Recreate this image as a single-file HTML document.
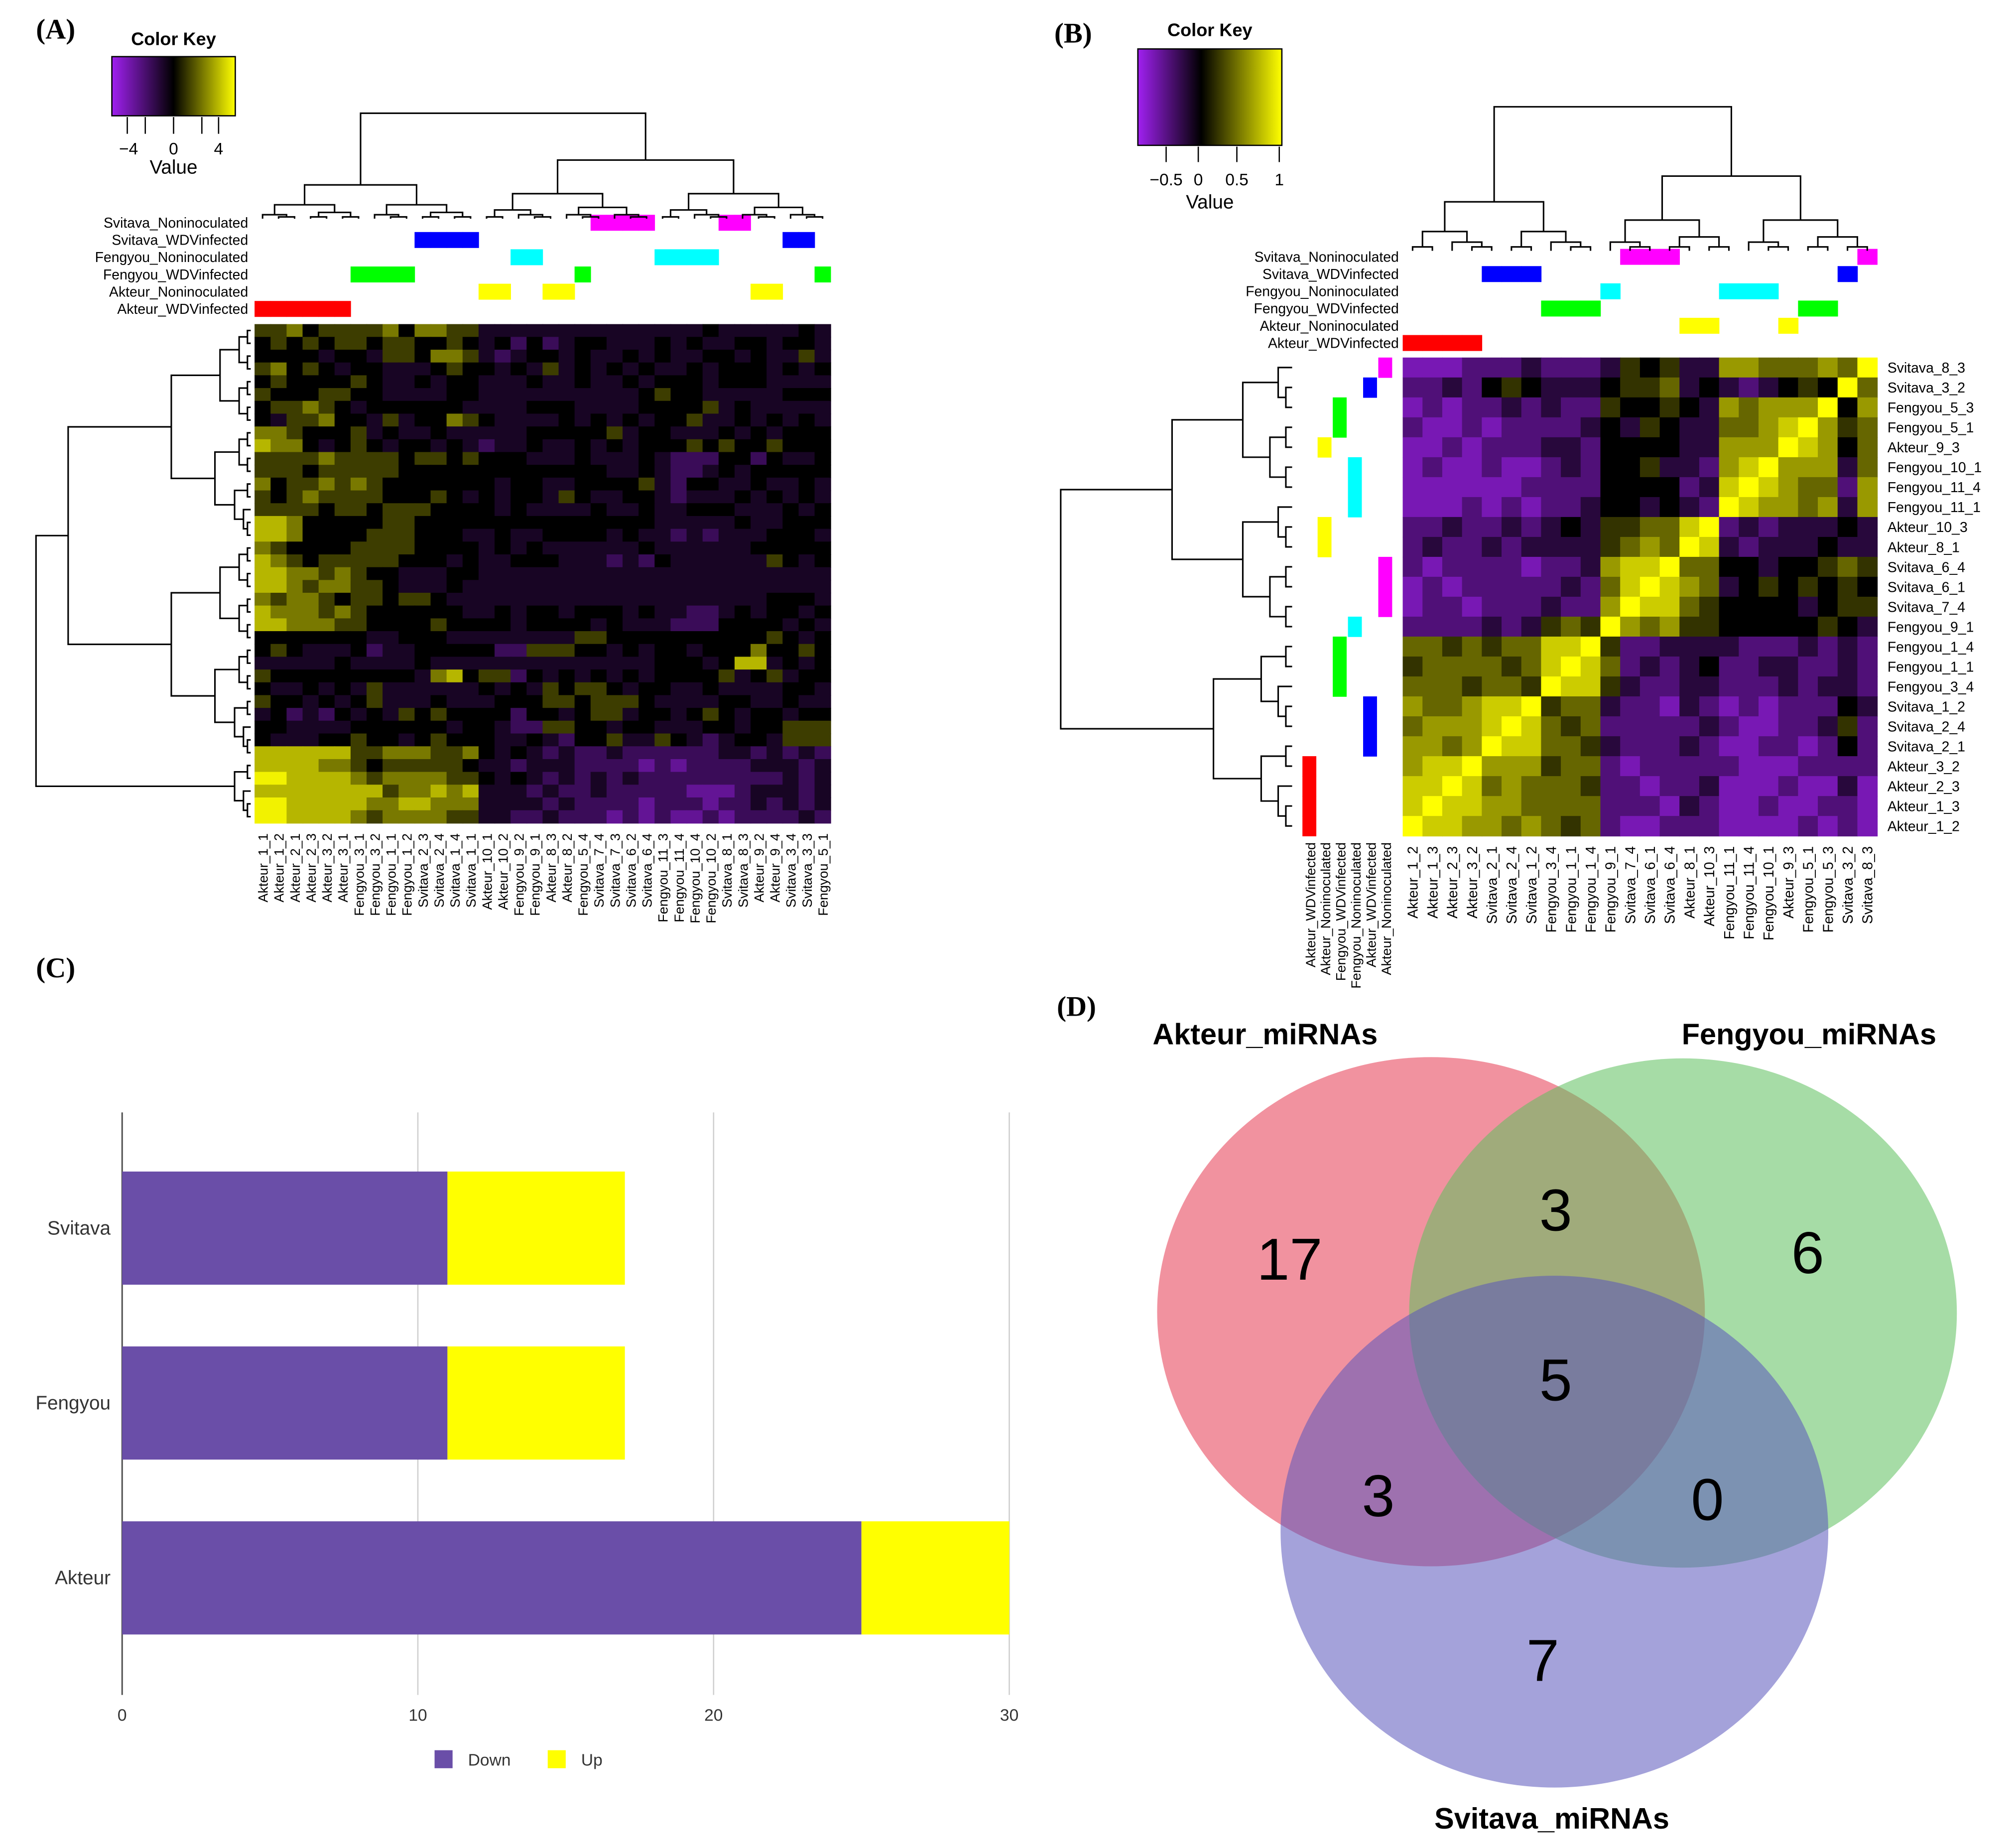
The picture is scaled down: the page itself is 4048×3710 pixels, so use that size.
<!DOCTYPE html>
<html><head><meta charset="utf-8"><style>
html,body{margin:0;padding:0;background:#fff;}
svg{display:block;font-family:"Liberation Sans",sans-serif;}
</style></head><body>
<svg id="fig" xmlns="http://www.w3.org/2000/svg" width="4048" height="3710" viewBox="0 0 1568 1437">
<defs>
<linearGradient id="gk" x1="0" x2="1" y1="0" y2="0"><stop offset="0" stop-color="#a020f0"/><stop offset="0.5" stop-color="#000"/><stop offset="1" stop-color="#ffff00"/></linearGradient>
<linearGradient id="gkb" x1="0" x2="1" y1="0" y2="0"><stop offset="0" stop-color="#a020f0"/><stop offset="0.44" stop-color="#000"/><stop offset="1" stop-color="#ffff00"/></linearGradient>
</defs>
<rect width="1568" height="1437" fill="#fff"/>
<g font-family="Liberation Serif,serif" font-weight="bold" font-size="22">
<text x="28" y="30">(A)</text>
<text x="820" y="33">(B)</text>
<text x="28" y="760">(C)</text>
<text x="822" y="790">(D)</text>
</g>
<g>
<text x="135" y="35" font-size="14" font-weight="bold" text-anchor="middle">Color Key</text>
<rect x="87" y="44" width="96" height="46" fill="url(#gk)" stroke="#000" stroke-width="1"/>
<path d="M99 91v13M113 91v13M135 91v13M157 91v13M170 91v13" stroke="#000" stroke-width="1"/>
<text x="100" y="120" font-size="13" text-anchor="middle">−4</text>
<text x="135" y="120" font-size="13" text-anchor="middle">0</text>
<text x="170" y="120" font-size="13" text-anchor="middle">4</text>
<text x="135" y="135" font-size="15" text-anchor="middle">Value</text>
</g>
<g>
<text x="941" y="28" font-size="14" font-weight="bold" text-anchor="middle">Color Key</text>
<rect x="885" y="38" width="112" height="75" fill="url(#gkb)" stroke="#000" stroke-width="1"/>
<path d="M907 114v12M932 114v12M962 114v12M995 114v12" stroke="#000" stroke-width="1"/>
<text x="907" y="144" font-size="13" text-anchor="middle">−0.5</text>
<text x="932" y="144" font-size="13" text-anchor="middle">0</text>
<text x="962" y="144" font-size="13" text-anchor="middle">0.5</text>
<text x="995" y="144" font-size="13" text-anchor="middle">1</text>
<text x="941" y="162" font-size="15" text-anchor="middle">Value</text>
</g>
<g id="gA"></g>
<g id="gB"></g>
<g id="gC"></g>
<g id="gD"></g>
</svg>
<script>
const colsA = ["Akteur_1_1","Akteur_1_2","Akteur_2_1","Akteur_2_3","Akteur_3_2","Akteur_3_1","Fengyou_3_1","Fengyou_3_2","Fengyou_1_1","Fengyou_1_2","Svitava_2_3","Svitava_2_4","Svitava_1_4","Svitava_1_1","Akteur_10_1","Akteur_10_2","Fengyou_9_2","Fengyou_9_1","Akteur_8_3","Akteur_8_2","Fengyou_5_4","Svitava_7_4","Svitava_7_3","Svitava_6_2","Svitava_6_4","Fengyou_11_3","Fengyou_11_4","Fengyou_10_4","Fengyou_10_2","Svitava_8_1","Svitava_8_3","Akteur_9_2","Akteur_9_4","Svitava_3_4","Svitava_3_3","Fengyou_5_1"];
const groupsA = ["AW","AW","AW","AW","AW","AW","FW","FW","FW","FW","SW","SW","SW","SW","AN","AN","FN","FN","AN","AN","FW","SN","SN","SN","SN","FN","FN","FN","FN","SN","SN","AN","AN","SW","SW","FW"];
const annRows = ["SN","SW","FN","FW","AN","AW"];
const annNames = ["Svitava_Noninoculated","Svitava_WDVinfected","Fengyou_Noninoculated","Fengyou_WDVinfected","Akteur_Noninoculated","Akteur_WDVinfected"];
const annColors = {SN:"#ff00ff",SW:"#0000ff",FN:"#00ffff",FW:"#00ff00",AN:"#ffff00",AW:"#ff0000"};
const valuesA = [
"556455556466553333333333333343333343","454545545544543424234433343433443443","444434435546653234434334343344343353",
"564543443334544343534343433434443434","454444543343443334334334344434443333","544455443333443333333333454433333444",
"455654344444433334443333444453433333","435564435344654333343434344533434343","665444534334333334444453443334343444",
"766434543443432334334343444545445444","555565555455454443334333432224424334","555455555444444444444433432234344444",
"645565654444444344334444532443343343","545655554445434344354334432333434343","555545545554444343333433433444333434",
"776444445544444444444444433333433444","776444455544433433444434332323334443","654444555544443434333333433333344444",
"765455555444343344433323243333335434","776656544333443333333333333333333333","776566554333433333333333333333333333",
"656654554554333333333333333333334443","766656544444433434434443433223434434","776665544445444434444343332224444343",
"444444433444333333335544444444445434","454333423344444225554434344344464454","333334333343333333333333344434773434",
"544444444436745524343434344445345344","433434353333334343545543443343333443","544343453334333444554555433334433433",
"342324343545444424434553443454344344","443333444444344322554434433344344555","433344544345444334324453354323443555",
"777777556665564343232232222223323232","777766545555543323332222121222233323","887777656666554343232323222222222323",
"777777775667673332322322222111233323","887777766776663333232222122212232323","887777656666553322322212121121222232"
];
const colsB = ["Akteur_1_2","Akteur_1_3","Akteur_2_3","Akteur_3_2","Svitava_2_1","Svitava_2_4","Svitava_1_2","Fengyou_3_4","Fengyou_1_1","Fengyou_1_4","Fengyou_9_1","Svitava_7_4","Svitava_6_1","Svitava_6_4","Akteur_8_1","Akteur_10_3","Fengyou_11_1","Fengyou_11_4","Fengyou_10_1","Akteur_9_3","Fengyou_5_1","Fengyou_5_3","Svitava_3_2","Svitava_8_3"];
const groupsB = ["AW","AW","AW","AW","SW","SW","SW","FW","FW","FW","FN","SN","SN","SN","AN","AN","FN","FN","FN","AN","FW","FW","SW","SN"];
const sideOrder = ["AW","AN","FW","FN","SW","SN"];
const sideNames = ["Akteur_WDVinfected","Akteur_Noninoculated","Fengyou_WDVinfected","Fengyou_Noninoculated","Akteur_WDVinfected","Akteur_Noninoculated"];
const corrB = ["9","89","889","7889","77679","677789","7667889","66656659","566665689","6656566889","22223235659","122122232279","1212222232689","21222212237889","232232333356769","2232232343556689","11121212234434329","111111222244442389","1211211232445332789","11212223324444337779","211212222343543366789","1212232322544543767779","22324543334556343234549","111222322235453377666769"];
const catsC = ["Svitava","Fengyou","Akteur"];
const downC = [11,11,25];
const upC = [6,6,5];
const ticksC = [0,10,20,30];
const vennLabels = ["17","3","6","5","3","0","7"];

const NS="http://www.w3.org/2000/svg";
function mk(parent,tag,attrs,txt){const e=document.createElementNS(NS,tag);for(const k in attrs)e.setAttribute(k,attrs[k]);if(txt!==undefined)e.textContent=txt;parent.appendChild(e);return e;}
function mix(a,b,t){return "rgb("+a.map((v,i)=>Math.round(v+(b[i]-v)*t)).join(",")+")";}
const PUR=[160,32,240],BLK=[0,0,0],YEL=[255,255,0];
function colA(d){return d<4?mix(BLK,PUR,Math.pow((4-d)/4,1.3)*0.9):mix(BLK,YEL,(d-4)/4*0.95);}
function colB(v){return v<0?mix(BLK,PUR,Math.min(1,-v/0.8)):mix(BLK,YEL,Math.min(1,v));}

function dendro(g,n,first,leafPos,leafLine,rootPos,vertical,name){
  function build(lo,hi,fs){
    if(hi-lo===1) return {p:leafPos(lo),h:leafLine,n:1};
    const mid=fs!==undefined?fs:lo+Math.floor((hi-lo)/2);
    const a=build(lo,mid),b=build(mid,hi);
    const k=hi-lo;
    const h=leafLine+(rootPos-leafLine)*Math.pow((k-1)/(n-1),1.15);
    let d;
    if(vertical) d="M"+a.p+" "+a.h+"V"+h+"H"+b.p+"V"+b.h;
    else d="M"+a.h+" "+a.p+"H"+h+"V"+b.p+"H"+b.h;
    const e=mk(g,"path",{d:d,fill:"none",stroke:"#000","stroke-width":1.2});
    
    
    return {p:(a.p+b.p)/2,h:h,n:k};
  }
  build(0,n,first);
}

(function(){
const g=document.getElementById("gA");
const x0=198,x1=646,y0=252,y1=640,nc=colsA.length,nr=valuesA.length;
const cw=(x1-x0)/nc,rh=(y1-y0)/nr;
const xs=i=>x0+i*cw, ys=r=>y0+r*rh;
valuesA.forEach((row,r)=>{for(let c=0;c<nc;c++){
  const e=mk(g,"rect",{x:xs(c),y:ys(r),width:cw+0.4,height:rh+0.4,fill:colA(+row[c])});
  
  
}});
colsA.forEach((l,c)=>{const cx=xs(c)+cw/2+4;
  const t=mk(g,"text",{x:cx,y:648,"font-size":10.5,"text-anchor":"end",transform:"rotate(-90 "+cx+" 648)"},l);
  
  
});
const ay0=167,ah=13.4;
annRows.forEach((code,k)=>{
  const t=mk(g,"text",{x:193,y:ay0+k*ah+10,"font-size":11,"text-anchor":"end"},annNames[k]);
  
  
  groupsA.forEach((gc,c)=>{if(gc===code){
    const e=mk(g,"rect",{x:xs(c),y:ay0+k*ah,width:cw+0.3,height:ah-1,fill:annColors[code]});
    
    
  }});
});
dendro(g,nc,14,i=>xs(i)+cw/2,170,88,true,'column-dendrogram-a');
dendro(g,nr,34,r=>ys(r)+rh/2,195,28,false,'row-dendrogram-a');
})();

(function(){
const g=document.getElementById("gB");
const n=colsB.length,x0=1091,x1=1460,y0=278,y1=650;
const cw=(x1-x0)/n,rh=(y1-y0)/n;
const xs=i=>x0+i*cw, ys=r=>y0+r*rh;
const lev=(i,j)=>{const a=Math.max(i,j),b=Math.min(i,j);return -0.8+0.2*(+corrB[a][b]);};
for(let r=0;r<n;r++){const si=n-1-r;for(let c=0;c<n;c++){
  const e=mk(g,"rect",{x:xs(c),y:ys(r),width:cw+0.4,height:rh+0.4,fill:colB(lev(si,c))});
  
  
}}
colsB.forEach((l,c)=>{const cx=xs(c)+cw/2+4;
  const t=mk(g,"text",{x:cx,y:658,"font-size":11,"text-anchor":"end",transform:"rotate(-90 "+cx+" 658)"},l);
  
  
  const r=n-1-c;
  const t2=mk(g,"text",{x:1468,y:ys(r)+rh/2+4,"font-size":11},l);
  
  
});
const ay0=193.5,ah=13.4;
annRows.forEach((code,k)=>{
  const t=mk(g,"text",{x:1088,y:ay0+k*ah+10,"font-size":11,"text-anchor":"end"},annNames[k]);
  
  
  groupsB.forEach((gc,c)=>{if(gc===code){
    const e=mk(g,"rect",{x:xs(c),y:ay0+k*ah,width:cw+0.3,height:ah-1,fill:annColors[code]});
    
    
  }});
});
const sx0=1013,sw=11.8;
sideOrder.forEach((code,k)=>{
  const cx=sx0+k*sw+sw/2+4;
  const t=mk(g,"text",{x:cx,y:655,"font-size":10.5,"text-anchor":"end",transform:"rotate(-90 "+cx+" 655)"},sideNames[k]);
  
  
  groupsB.forEach((gc,c)=>{if(gc===code){const r=n-1-c;
    const e=mk(g,"rect",{x:sx0+k*sw,y:ys(r),width:sw-1,height:rh+0.3,fill:annColors[code]});
    
    
  }});
});
dendro(g,n,10,i=>xs(i)+cw/2,195,83,true,'column-dendrogram-b');
dendro(g,n,14,r=>ys(r)+rh/2,1005,825,false,'row-dendrogram-b');
})();

(function(){
const g=document.getElementById("gC");
const xS=v=>95+v*23;
const yC=[955,1091,1227];
ticksC.forEach(t=>{
  if(t>0){const l=mk(g,"line",{x1:xS(t),x2:xS(t),y1:865,y2:1318,stroke:"#cfcfcf","stroke-width":1});
  
  }
  const tx=mk(g,"text",{x:xS(t),y:1338,"font-size":13,"text-anchor":"middle",fill:"#333"},String(t));
  
  
});
const ax=mk(g,"line",{x1:95,x2:95,y1:865,y2:1318,stroke:"#555","stroke-width":1.2});


catsC.forEach((c,i)=>{
  const b=mk(g,"rect",{x:xS(0),y:yC[i]-44,width:xS(downC[i])-xS(0),height:88,fill:"#6a4ea8"});
  
  
  const u=mk(g,"rect",{x:xS(downC[i]),y:yC[i]-44,width:xS(downC[i]+upC[i])-xS(downC[i]),height:88,fill:"#ffff00"});
  
  
  const t=mk(g,"text",{x:86,y:yC[i]+5,"font-size":15,"text-anchor":"end",fill:"#333"},c);
  
  
});
const l1=mk(g,"rect",{x:338,y:1361,width:14,height:14,fill:"#6a4ea8"});


const l1t=mk(g,"text",{x:364,y:1373,"font-size":13,fill:"#333"},"Down");


const l2=mk(g,"rect",{x:426,y:1361,width:14,height:14,fill:"#ffff00"});


const l2t=mk(g,"text",{x:452,y:1373,"font-size":13,fill:"#333"},"Up");


})();

(function(){
const g=document.getElementById("gD");
const cA=mk(g,"ellipse",{cx:1113,cy:1020,rx:213,ry:198,fill:"#e63950","fill-opacity":0.55});


const cF=mk(g,"ellipse",{cx:1309,cy:1021,rx:213,ry:198,fill:"#5cbf5c","fill-opacity":0.55});


const cS=mk(g,"ellipse",{cx:1209,cy:1191,rx:213,ry:199,fill:"#5a56bc","fill-opacity":0.55});


const pos=[[1003,978],[1210,940],[1406,973],[1210,1072],[1072,1162],[1328,1165],[1200,1290]];
vennLabels.forEach((v,i)=>{
  const t=mk(g,"text",{x:pos[i][0],y:pos[i][1]+17,"font-size":46,"text-anchor":"middle",fill:"#000"},v);
  
  
});
const titles=[["Akteur_miRNAs",984,812],["Fengyou_miRNAs",1407,812],["Svitava_miRNAs",1207,1422]];
titles.forEach(tt=>{
  const t=mk(g,"text",{x:tt[1],y:tt[2],"font-size":23,"font-weight":"bold","text-anchor":"middle"},tt[0]);
  
  
});
})();
</script>
</body></html>
